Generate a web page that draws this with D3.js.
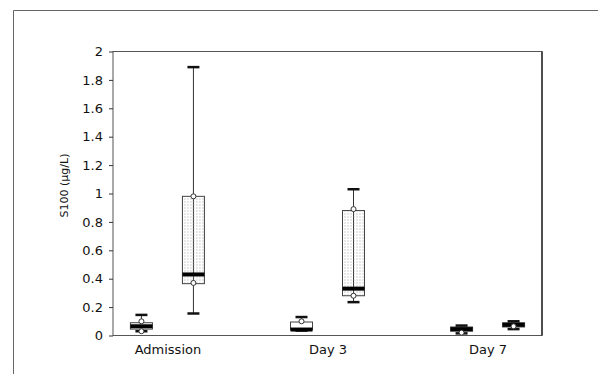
<!DOCTYPE html>
<html>
<head>
<meta charset="utf-8">
<script src="https://cdn.jsdelivr.net/npm/d3@7/dist/d3.min.js"></script>
<style>
    body { margin: 0; background: #fff; }
    .axis text { font-family: "DejaVu Sans", sans-serif; font-size: 13px; fill: #111; }
    .axis path, .axis line { stroke: #333; }
</style>
</head>
<body>
<div id="content"></div>
<script>
// categories and series
const groups = ["Admission", "Day 3", "Day 7"];
const series = ["control", "patient"];
const yTicks = [0, 0.2, 0.4, 0.6, 0.8, 1, 1.2, 1.4, 1.6, 1.8, 2];

// control boxes (white)
const controlLow = [0.03, 0.035, 0.015];
const controlQ1 = [0.045, 0.04, 0.03];
const controlMedian = [0.065, 0.042, 0.045];
const controlQ3 = [0.09, 0.095, 0.06];
const controlHigh = [0.145, 0.13, 0.07];
const controlPoints = [[0.1, 0.03], [0.1], [0.02]];

// patient boxes (stippled)
const patientLow = [0.155, 0.235, 0.045];
const patientQ1 = [0.365, 0.28, 0.06];
const patientMedian = [0.43, 0.33, 0.075];
const patientQ3 = [0.98, 0.88, 0.09];
const patientHigh = [1.89, 1.03, 0.1];
const patientPoints = [[0.98, 0.37], [0.89, 0.28], [0.065]];

const W = 604, H = 374;
const margin = {top: 51.5, right: 62, bottom: 38.5, left: 113},
    width = W - margin.left - margin.right,
    height = H - margin.top - margin.bottom;

const root = d3.select("#content")
    .append("svg")
    .attr("width", W)
    .attr("height", H);

// stipple fill
root.append("defs")
    .append("pattern")
    .attr("id", "stipple")
    .attr("patternUnits", "userSpaceOnUse")
    .attr("width", 3)
    .attr("height", 3)
    .append("rect")
    .attr("width", 1)
    .attr("height", 1)
    .attr("fill", "#a0a0a0");

// outer frame (top and left edges only are in view)
root.append("path")
    .attr("d", d3.line()([[13.5, 374], [13.5, 10.5], [598, 10.5]]))
    .attr("fill", "none")
    .attr("stroke", "#666")
    .attr("stroke-width", 1);

const svg = root.append("g")
    .attr("transform", "translate(" + margin.left + "," + margin.top + ")");

let x = d3.scalePoint()
    .domain(groups)
    .range([0, width])
    .padding(0.34);

let xs = d3.scalePoint()
    .domain(series)
    .range([-26, 26]);

let y = d3.scaleLinear()
    .domain([0, 2])
    .range([height, 0]);

// plot frame
svg.append("rect")
    .attr("width", width)
    .attr("height", height)
    .attr("fill", "none")
    .attr("stroke", "#555")
    .attr("stroke-width", 1);

svg.append("line")
    .attr("x1", width)
    .attr("x2", width)
    .attr("y2", height)
    .attr("stroke", "#111")
    .attr("stroke-width", 1.2);

svg.append("g")
    .attr("class", "y axis")
    .call(d3.axisLeft(y)
        .tickValues(yTicks)
        .tickSize(4)
        .tickPadding(6)
        .tickFormat(d => String(+d.toFixed(1))))
    .call(g => g.select(".domain").remove());

svg.append("g")
    .attr("class", "x axis")
    .attr("transform", "translate(0," + height + ")")
    .call(d3.axisBottom(x).tickSize(0).tickPadding(9))
    .call(g => g.select(".domain").remove());

let boxes = [];
groups.forEach((g, i) => {
    boxes.push({group: g, s: "control", low: controlLow[i], q1: controlQ1[i], med: controlMedian[i],
        q3: controlQ3[i], high: controlHigh[i], pts: controlPoints[i]});
    boxes.push({group: g, s: "patient", low: patientLow[i], q1: patientQ1[i], med: patientMedian[i],
        q3: patientQ3[i], high: patientHigh[i], pts: patientPoints[i]});
});

const boxW = 22, capW = 12;

let box = svg.selectAll(".box")
    .data(boxes)
    .enter()
    .append("g")
    .attr("class", "box")
    .attr("transform", d => "translate(" + (x(d.group) + xs(d.s)) + ",0)");

// whisker
box.append("line")
    .attr("y1", d => y(d.low))
    .attr("y2", d => y(d.high))
    .attr("stroke", "#333")
    .attr("stroke-width", 1);

// box body
box.append("rect")
    .attr("x", -boxW / 2)
    .attr("y", d => y(d.q3))
    .attr("width", boxW)
    .attr("height", d => y(d.q1) - y(d.q3))
    .attr("fill", d => d.s == "patient" ? "url(#stipple)" : "#fff")
    .attr("stroke", "#444")
    .attr("stroke-width", 1);

// caps
box.selectAll(".cap")
    .data(d => [d.low, d.high])
    .enter()
    .append("line")
    .attr("class", "cap")
    .attr("x1", -capW / 2)
    .attr("x2", capW / 2)
    .attr("y1", d => y(d))
    .attr("y2", d => y(d))
    .attr("stroke", "#111")
    .attr("stroke-width", 2.5);

// median
box.append("line")
    .attr("x1", -boxW / 2)
    .attr("x2", boxW / 2)
    .attr("y1", d => y(d.med))
    .attr("y2", d => y(d.med))
    .attr("stroke", "#000")
    .attr("stroke-width", 4);

// percentile points
box.selectAll(".pt")
    .data(d => d.pts)
    .enter()
    .append("circle")
    .attr("class", "pt")
    .attr("cy", d => y(d))
    .attr("r", 2.5)
    .attr("fill", "#fff")
    .attr("stroke", "#333")
    .attr("stroke-width", 1);

// y axis title
svg.append("text")
    .attr("transform", "translate(" + (-49) + "," + (height / 2 - 8) + ") rotate(-90)")
    .attr("text-anchor", "middle")
    .attr("dy", "0.35em")
    .style("font-family", "DejaVu Sans, sans-serif")
    .style("font-size", "11px")
    .style("fill", "#111")
    .text("S100 (μg/L)");
</script>
</body>
</html>
